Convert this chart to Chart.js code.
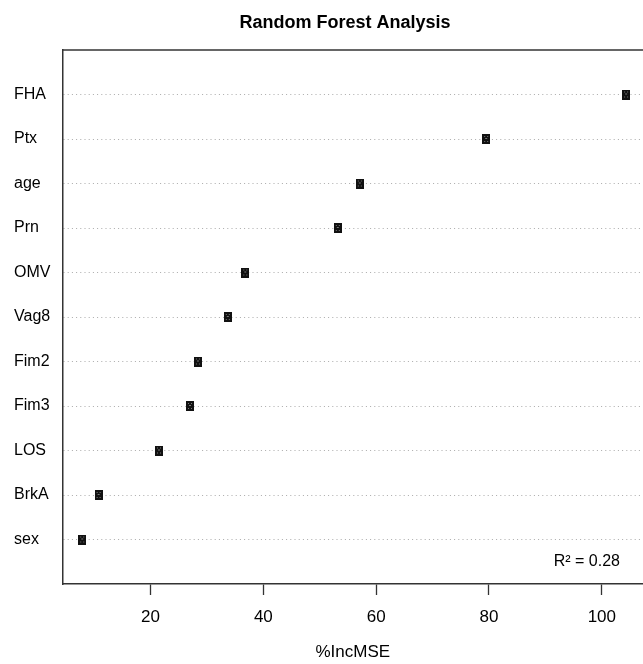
<!DOCTYPE html>
<html>
<head>
<meta charset="utf-8">
<title>Random Forest Analysis</title>
<script src="https://cdn.jsdelivr.net/npm/chart.js@4/dist/chart.umd.min.js"></script>
<style>
  body { margin: 0; background: #fff; }
  canvas { display: block; }
</style>
</head>
<body>
<canvas id="rf_canvas" width="643" height="664"></canvas>
<script>
// variable names, top to bottom
var var_labels = ['FHA', 'Ptx', 'age', 'Prn', 'OMV', 'Vag8', 'Fim2', 'Fim3', 'LOS', 'BrkA', 'sex'];
// %IncMSE
var inc_mse = [104.3, 79.5, 57.1, 53.2, 36.8, 33.7, 28.4, 27.0, 21.5, 10.8, 7.9];
var x_ticks = [20, 40, 60, 80, 100];
var r2_text = 'R\u00b2 = 0.28';

var font_family = "'Liberation Sans', Arial, Helvetica, sans-serif";

// small dark square like R's point
function makeMarker() {
    var c = document.createElement('canvas');
    c.width = 8;
    c.height = 10;
    var g = c.getContext('2d');
    g.fillStyle = '#111';
    g.fillRect(0, 0, 8, 10);
    g.fillStyle = '#777';
    g.fillRect(2, 2, 1, 1);
    g.fillRect(5, 2, 1, 1);
    g.fillRect(3, 4, 2, 1);
    g.fillRect(2, 7, 1, 1);
    g.fillRect(5, 7, 1, 1);
    return c;
}

var points = [];
for (var i = 0; i < var_labels.length; i++) {
    points.push({ x: inc_mse[i], y: i + 1 });
}

// title, top border of the box, R^2 note
var extras = {
    id: 'extras',
    afterDraw: function (chart) {
        var ctx = chart.ctx;
        var a = chart.chartArea;
        ctx.save();
        ctx.strokeStyle = '#333';
        ctx.lineWidth = 1.5;
        ctx.beginPath();
        ctx.moveTo(a.left, a.top);
        ctx.lineTo(a.right, a.top);
        ctx.stroke();

        ctx.fillStyle = '#000';
        ctx.font = 'bold 18px ' + font_family;
        ctx.textAlign = 'center';
        ctx.textBaseline = 'alphabetic';
        ctx.fillText('Random Forest Analysis', 345, 28);

        ctx.font = '16px ' + font_family;
        ctx.textAlign = 'right';
        ctx.fillText(r2_text, 620, 566);
        ctx.restore();
    }
};

var rf_canvas = document.getElementById('rf_canvas');
var ctx = rf_canvas.getContext('2d');
var rfChart = new Chart(ctx, {
    type: 'scatter',
    data: {
        datasets: [{
            label: '%IncMSE',
            data: points,
            pointStyle: makeMarker(),
            pointRadius: 4,
            backgroundColor: '#111',
            borderColor: '#111'
        }]
    },
    options: {
        responsive: false,
        animation: false,
        devicePixelRatio: 1,
        layout: {
            autoPadding: false,
            padding: { top: 50, left: 14, right: 0, bottom: 0 }
        },
        plugins: {
            legend: { display: false },
            tooltip: { enabled: false },
            title: { display: false }
        },
        scales: {
            x: {
                type: 'linear',
                min: 4.4,
                max: 107.3,
                afterBuildTicks: function (scale) {
                    scale.ticks = x_ticks.map(function (v) { return { value: v }; });
                },
                afterFit: function (scale) {
                    scale.height = 80;
                },
                grid: {
                    drawOnChartArea: false,
                    drawTicks: true,
                    tickLength: 11,
                    tickWidth: 1.3,
                    color: '#333'
                },
                border: { display: true, color: '#333', width: 1.5 },
                ticks: {
                    color: '#000',
                    padding: 12,
                    font: { family: font_family, size: 17 }
                },
                title: {
                    display: true,
                    text: '%IncMSE',
                    color: '#000',
                    padding: { top: 0, bottom: 1 },
                    font: { family: font_family, size: 17 }
                }
            },
            y: {
                type: 'linear',
                min: 0,
                max: 12,
                reverse: true,
                afterBuildTicks: function (scale) {
                    scale.ticks = var_labels.map(function (l, i) { return { value: i + 1 }; });
                },
                afterFit: function (scale) {
                    scale.width = 48.5;
                },
                grid: {
                    drawTicks: false,
                    color: '#aaa',
                    lineWidth: 1
                },
                border: { display: true, color: '#333', width: 1.5, dash: [1, 3.2] },
                ticks: {
                    color: '#000',
                    padding: 0,
                    crossAlign: 'far',
                    font: { family: font_family, size: 16 },
                    callback: function (value) {
                        return var_labels[value - 1];
                    }
                }
            }
        }
    },
    plugins: [extras]
});
</script>
</body>
</html>
